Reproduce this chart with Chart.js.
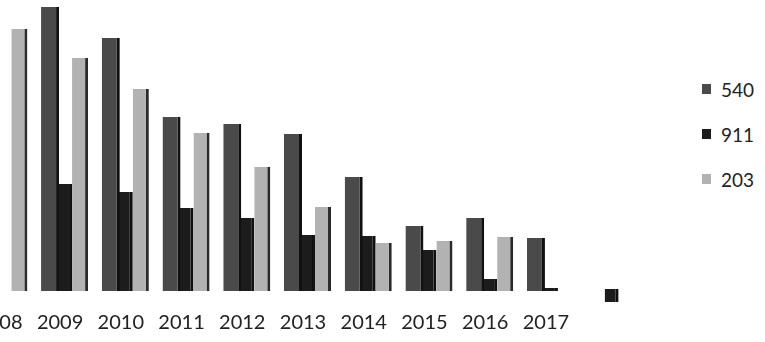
<!DOCTYPE html>
<html>
<head>
<meta charset="utf-8">
<script src="https://cdn.jsdelivr.net/npm/chart.js@4/dist/chart.umd.min.js"></script>
<style>
  html, body { margin: 0; padding: 0; background: #fff; }
  #wrap { position: relative; width: 765px; height: 342px; overflow: hidden; background: #fff; }
  #plot { position: absolute; left: -40px; top: 0; width: 700px; height: 342px; }
  #legend { position: absolute; left: 702px; top: 0; width: 63px; height: 342px; }
  .item { position: absolute; left: 0; height: 20px; display: flex; align-items: center;
          font: 19px Lato, "Noto Sans", sans-serif; color: #222; white-space: nowrap; }
  .swatch { width: 9px; height: 10px; margin-right: 10px; flex: none; }
</style>
</head>
<body>
<div id="wrap">
  <canvas id="plot" width="700" height="342"></canvas>
  <div id="legend"></div>
</div>
<script>
// Categories (years); the last slot carries no label
const years = ['2008', '2009', '2010', '2011', '2012', '2013', '2014', '2015', '2016', '2017', ''];

// Series values per year
const s540 = [null, 142, 126.5, 87, 83.5, 78.5, 57, 32.5, 36.5, 26.5, null];
const s911 = [null, 53.5, 49.5, 41.5, 36.5, 28, 27.5, 20.5, 6, 1.5, [-5.5, 1]];
const s203 = [131, 116.5, 101, 79, 62, 42, 24, 25, 27, null, null];

// Series names
const seriesNames = ['540', '911', '203'];

// Fill, right-hand edge shade and relative width of each series' columns
const fills = ['#4a4a4a', '#1c1c1c', '#b2b2b2'];
const edges = ['#111111', '#111111', '#2a2a2a'];
const widths = [1.2, 0.93, 1.07];
const values = [s540, s911, s203];

const datasets = seriesNames.map((name, i) => ({
  label: name,
  data: values[i],
  backgroundColor: fills[i],
  borderColor: edges[i],
  borderWidth: { top: 0, right: 3, bottom: 0, left: 0 },
  borderSkipped: false,
  categoryPercentage: 0.741,
  barPercentage: widths[i]
}));

const chart = new Chart(document.getElementById('plot'), {
  type: 'bar',
  data: { labels: years, datasets },
  options: {
    responsive: false,
    animation: false,
    events: [],
    layout: { padding: { left: 14, right: 18, top: 0, bottom: 0 } },
    plugins: { legend: { display: false }, tooltip: { enabled: false } },
    scales: {
      x: {
        offset: true,
        grid: { display: false, drawTicks: false },
        border: { display: false },
        ticks: {
          autoSkip: false,
          maxRotation: 0,
          padding: 10,
          labelOffset: -5,
          color: '#222',
          font: { family: 'Lato', size: 20, lineHeight: 0.95 }
        }
      },
      y: { display: false, min: -6, max: 145.5 }
    }
  }
});

// Legend built from the chart's datasets
const legend = document.getElementById('legend');
const rowCenters = [89, 134, 179];
chart.data.datasets.forEach((ds, i) => {
  const row = document.createElement('div');
  row.className = 'item';
  row.style.top = (rowCenters[i] - 10) + 'px';
  const sw = document.createElement('span');
  sw.className = 'swatch';
  sw.style.background = ds.backgroundColor;
  const tx = document.createElement('span');
  tx.textContent = ds.label;
  row.appendChild(sw);
  row.appendChild(tx);
  legend.appendChild(row);
});
</script>
</body>
</html>
